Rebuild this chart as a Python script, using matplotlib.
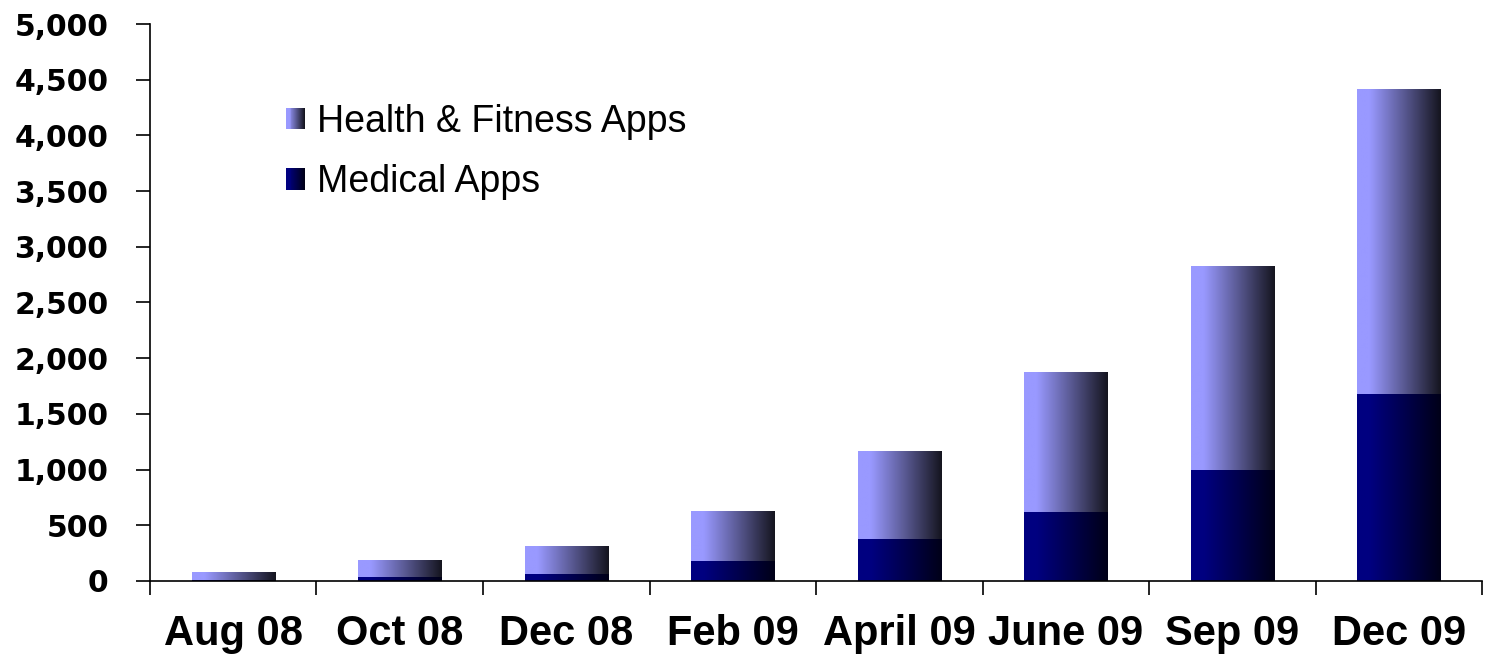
import numpy as np
import matplotlib
matplotlib.use("Agg")
import matplotlib.pyplot as plt
from matplotlib.colors import to_rgb
from matplotlib.patches import Rectangle
from matplotlib.legend_handler import HandlerBase
from matplotlib.ticker import FuncFormatter, FixedLocator

# data
months = ["Aug 08", "Oct 08", "Dec 08", "Feb 09", "April 09", "June 09", "Sep 09", "Dec 09"]
medical = [5, 36, 65, 180, 377, 620, 1000, 1680]
health_fitness = [67, 144, 249, 440, 783, 1256, 1828, 2736]

# colours: left edge -> right edge of the horizontal gradient
hf_colors = ("#9999ff", "#15151f")
med_colors = ("#000080", "#000018")


def gradient_img(c0, c1, n=128):
    t = np.linspace(0, 1, n)
    f = np.clip((t - 0.15) / 0.85, 0, 1)
    a, b = np.array(to_rgb(c0)), np.array(to_rgb(c1))
    cols = a[None, :] * (1 - f[:, None]) + b[None, :] * f[:, None]
    return cols[None, :, :]


class GradientHandler(HandlerBase):
    def __init__(self, c0, c1):
        super().__init__()
        self.c0, self.c1 = c0, c1

    def create_artists(self, legend, orig_handle, xdescent, ydescent,
                       width, height, fontsize, trans):
        img = gradient_img(self.c0, self.c1, 20)[0]
        n = len(img)
        arts = []
        for i, c in enumerate(img):
            r = Rectangle((-xdescent + width * i / n, -ydescent), width / n + 0.3, height,
                          facecolor=c, edgecolor="none", transform=trans)
            arts.append(r)
        return arts


fig = plt.figure(figsize=(14.88, 6.63), dpi=100)
ax = fig.add_axes([0.1008, 0.1237, 0.8952, 0.8401])

x = np.arange(len(months))
width = 0.5
bars_med = ax.bar(x, medical, width, color="none", edgecolor="none")
bars_hf = ax.bar(x, health_fitness, width, bottom=medical, color="none", edgecolor="none")

for bars, cols in ((bars_med, med_colors), (bars_hf, hf_colors)):
    img = gradient_img(*cols)
    for b in bars:
        x0, y0 = b.get_x(), b.get_y()
        ax.imshow(img, extent=(x0, x0 + b.get_width(), y0, y0 + b.get_height()),
                  aspect="auto", interpolation="bilinear", zorder=2)

ax.set_xlim(-0.5, len(months) - 0.5)
ax.set_ylim(0, 5000)

# spines
ax.spines["top"].set_visible(False)
ax.spines["right"].set_visible(False)
ax.spines["left"].set_linewidth(1.2)
ax.spines["bottom"].set_linewidth(1.2)

# y ticks
ax.set_yticks(np.arange(0, 5001, 500))
ax.yaxis.set_major_formatter(FuncFormatter(lambda v, p: f"{int(v):,}"))
ax.tick_params(axis="y", direction="out", length=10, width=1.2, pad=20)
for lab in ax.get_yticklabels():
    lab.set_fontfamily("DejaVu Sans")
    lab.set_fontweight("bold")
    lab.set_fontsize(21.5)

# x ticks: marks at category boundaries, labels at centres
ax.xaxis.set_major_locator(FixedLocator(np.arange(-0.5, len(months), 1.0)))
ax.xaxis.set_major_formatter(FuncFormatter(lambda v, p: ""))
ax.xaxis.set_minor_locator(FixedLocator(x))
ax.set_xticklabels(months, minor=True)
ax.tick_params(axis="x", which="major", direction="out", length=10, width=1.2)
ax.tick_params(axis="x", which="minor", length=0, pad=24)
for lab in ax.get_xticklabels(minor=True):
    lab.set_fontfamily("Liberation Sans")
    lab.set_fontweight("bold")
    lab.set_fontsize(30)

# legend
h1 = Rectangle((0, 0), 1, 1)
h2 = Rectangle((0, 0), 1, 1)
leg = ax.legend([h1, h2], ["Health & Fitness Apps", "Medical Apps"],
                handler_map={h1: GradientHandler(*hf_colors), h2: GradientHandler(*med_colors)},
                loc="upper left", bbox_to_anchor=(0.102, 0.857), frameon=False,
                borderpad=0, borderaxespad=0,
                prop={"family": "Liberation Sans", "size": 27},
                handlelength=0.5, handleheight=0.5, handletextpad=0.32, labelspacing=0.66)

fig.savefig("out.png", dpi=100)
